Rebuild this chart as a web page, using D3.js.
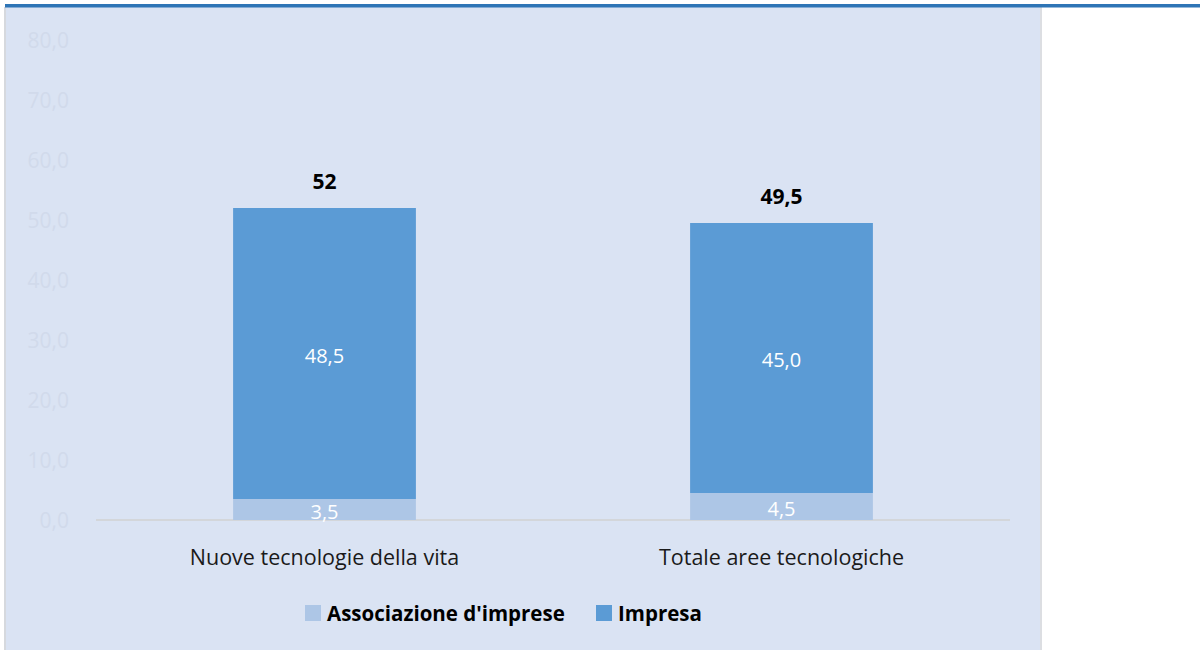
<!DOCTYPE html>
<html>
<head>
  <meta charset="utf-8">
  <title>Associazione d'imprese / Impresa</title>
  <style>
    html, body { margin: 0; padding: 0; background: #fff; }
    svg { display: block; font-family: "Open Sans", sans-serif; }
  </style>
</head>
<body>
  <svg id="chart"></svg>
  <script src="https://cdnjs.cloudflare.com/ajax/libs/d3/7.8.5/d3.min.js"></script>
  <script>
    // data
    const categories = ["Nuove tecnologie della vita", "Totale aree tecnologiche"];
    const seriesNames = ["Associazione d'imprese", "Impresa"];
    const associazione = [3.5, 4.5];
    const impresa = [48.5, 45.0];
    const totals = ["52", "49,5"];
    const yTicks = [0, 10, 20, 30, 40, 50, 60, 70, 80];

    const W = 1200, H = 650;
    const colors = ["#adc6e6", "#5b9bd5"];
    const fmt = v => d3.format(".1f")(v).replace(".", ",");

    const svg = d3.select("#chart").attr("width", W).attr("height", H);

    /** panel background and frame */
    svg.append("rect").attr("x", 5).attr("y", 7).attr("width", 1036).attr("height", H)
      .attr("fill", "#dae3f3");
    svg.append("rect").attr("x", 4).attr("y", 7).attr("width", 2).attr("height", H)
      .attr("fill", "#d6d9de");
    svg.append("rect").attr("x", 1040).attr("y", 7).attr("width", 2).attr("height", H)
      .attr("fill", "#dcdee2");
    svg.append("rect").attr("x", 5).attr("y", 4).attr("width", W).attr("height", 3.5)
      .attr("fill", "#2e75b6");

    /** scales */
    const x = d3.scaleBand()
      .domain(categories)
      .range([96, 1010])
      .paddingInner(0.6)
      .paddingOuter(0.3);

    const y = d3.scaleLinear()
      .domain([0, 80])
      .range([520, 40]);

    /** y axis labels (very faint, as in the reference) */
    const yAxis = svg.append("g")
      .attr("transform", "translate(69,0)")
      .call(d3.axisLeft(y).tickValues(yTicks).tickFormat(fmt).tickSize(0))
      .attr("font-family", null)
      .attr("font-size", 21)
      .call(g => g.select(".domain").remove());
    yAxis.selectAll("text")
      .attr("fill", "#d1daeb")
      .attr("x", 0)
      .attr("dy", "0.36em");

    /** baseline */
    svg.append("line")
      .attr("x1", 96).attr("x2", 1010)
      .attr("y1", y(0)).attr("y2", y(0))
      .attr("stroke", "#d3d6da")
      .attr("stroke-width", 2);

    /** stacked data */
    const rows = categories.map((c, i) => ({ cat: c, a: associazione[i], b: impresa[i], total: totals[i] }));
    const stack = d3.stack().keys(["a", "b"])(rows);

    const layers = svg.append("g").selectAll("g")
      .data(stack)
      .join("g")
      .attr("fill", (d, i) => colors[i]);

    layers.selectAll("rect")
      .data(d => d)
      .join("rect")
      .attr("x", d => x(d.data.cat))
      .attr("width", x.bandwidth())
      .attr("y", d => y(d[1]))
      .attr("height", d => y(d[0]) - y(d[1]));

    /** segment labels */
    layers.selectAll("text")
      .data(d => d)
      .join("text")
      .attr("x", d => x(d.data.cat) + x.bandwidth() / 2)
      .attr("y", d => (y(d[0]) + y(d[1])) / 2)
      .attr("dy", "0.45em")
      .attr("text-anchor", "middle")
      .attr("fill", "#fff")
      .attr("font-size", 20)
      .text(d => fmt(d[1] - d[0]));

    /** totals above bars */
    svg.append("g").selectAll("text")
      .data(rows)
      .join("text")
      .attr("x", d => x(d.cat) + x.bandwidth() / 2)
      .attr("y", d => y(d.a + d.b) - 19)
      .attr("text-anchor", "middle")
      .attr("font-size", 21)
      .attr("font-weight", "bold")
      .attr("fill", "#000")
      .text(d => d.total);

    /** category labels */
    svg.append("g").selectAll("text")
      .data(categories)
      .join("text")
      .attr("x", d => x(d) + x.bandwidth() / 2)
      .attr("y", 565)
      .attr("text-anchor", "middle")
      .attr("font-size", 21.5)
      .attr("fill", "#1a1a1a")
      .text(d => d);

    /** legend */
    const legendX = [305, 596];
    const legend = svg.append("g").selectAll("g")
      .data(seriesNames)
      .join("g")
      .attr("transform", (d, i) => `translate(${legendX[i]},605)`);
    legend.append("rect")
      .attr("width", 16).attr("height", 16)
      .attr("fill", (d, i) => colors[i]);
    legend.append("text")
      .attr("x", 22).attr("y", 16)
      .attr("font-size", 20.5)
      .attr("font-weight", "bold")
      .attr("fill", "#000")
      .text(d => d);
  </script>
</body>
</html>
